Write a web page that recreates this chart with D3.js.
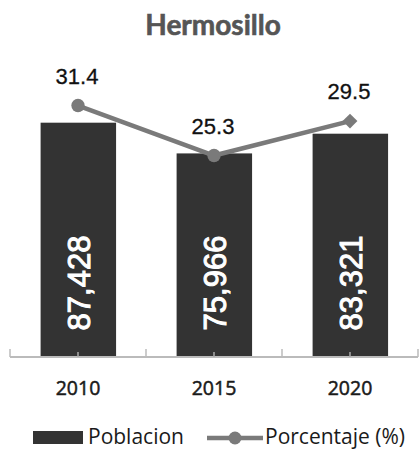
<!DOCTYPE html>
<html>
<head>
<meta charset="utf-8">
<script src="https://cdn.jsdelivr.net/npm/d3@7"></script>
<style>
  body { margin: 0; background: #fff; }
</style>
</head>
<body>
<svg width="420" height="451"></svg>
<script>
var years = ["2010", "2015", "2020"];
var poblacion = [87428, 75966, 83321];
var porcentaje = [31.4, 25.3, 29.5];
var legendLabels = ["Poblacion", "Porcentaje (%)"];

var svg = d3.select("svg"),
    width = +svg.attr("width"),
    height = +svg.attr("height");

var axisY = 357;

var x = d3.scaleBand().domain(years).range([10, 418]);
var y = d3.scaleLinear().domain([0, 100000]).range([axisY, 89]);
var y2 = d3.scaleLinear().domain([0, 35]).range([363, 76]);

var fmt = d3.format(",");

// titulo
svg.append("text")
  .attr("x", 213).attr("y", 35)
  .attr("text-anchor", "middle")
  .style("font-family", "Lato, sans-serif")
  .style("font-weight", "bold")
  .style("font-size", "28px")
  .style("fill", "#555")
  .style("stroke", "#555")
  .style("stroke-width", "0.6px")
  .text("Hermosillo");

// barras
var bw = x.bandwidth();
svg.append("g").selectAll("rect")
  .data(years)
  .enter().append("rect")
  .attr("x", function(d) { return x(d) + bw * 0.225; })
  .attr("width", bw * 0.555)
  .attr("y", function(d, i) { return y(poblacion[i]); })
  .attr("height", function(d, i) { return axisY - y(poblacion[i]); })
  .attr("fill", "#333");

// eje
var axis = svg.append("g");
axis.append("line")
  .attr("x1", 10).attr("x2", 418)
  .attr("y1", axisY).attr("y2", axisY)
  .attr("stroke", "#bbb").attr("stroke-width", 2);
axis.selectAll(".tick")
  .data(years.map(function(d) { return x(d); }).concat([418]))
  .enter().append("line")
  .attr("x1", function(d) { return d; }).attr("x2", function(d) { return d; })
  .attr("y1", axisY).attr("y2", axisY - 8)
  .attr("stroke", "#bbb").attr("stroke-width", 1.5);
axis.selectAll(".ctick")
  .data(years)
  .enter().append("line")
  .attr("x1", function(d) { return x(d) + bw / 2; }).attr("x2", function(d) { return x(d) + bw / 2; })
  .attr("y1", axisY).attr("y2", axisY - 5)
  .attr("stroke", "#aaa").attr("stroke-width", 1.5);

axis.selectAll(".yr")
  .data(years)
  .enter().append("text")
  .attr("x", function(d) { return x(d) + bw / 2; })
  .attr("y", 395)
  .attr("text-anchor", "middle")
  .style("font-family", "Open Sans")
  .style("font-size", "19.5px")
  .style("fill", "#1a1a1a")
  .style("stroke", "#1a1a1a")
  .style("stroke-width", "0.5px")
  .text(function(d) { return d; });

// etiquetas de las barras
svg.append("g").selectAll("text")
  .data(years)
  .enter().append("text")
  .attr("transform", function(d) { return "translate(" + (x(d) + bw / 2 + 1) + ",283) rotate(-90)"; })
  .attr("text-anchor", "middle")
  .attr("dy", "0.36em")
  .style("font-family", "Liberation Sans")
  .style("font-size", "31px")
  .style("fill", "#fff")
  .style("stroke", "#fff")
  .style("stroke-width", "1px")
  .text(function(d, i) { return fmt(poblacion[i]); });

// linea de porcentaje
var line = d3.line()
  .x(function(d, i) { return x(years[i]) + bw / 2; })
  .y(function(d) { return y2(d); });

svg.append("path")
  .datum(porcentaje)
  .attr("d", line)
  .attr("fill", "none")
  .attr("stroke", "#7a7a7a")
  .attr("stroke-width", 4.5);

svg.append("g").selectAll("path")
  .data(porcentaje)
  .enter().append("path")
  .attr("transform", function(d, i) { return "translate(" + (x(years[i]) + bw / 2) + "," + y2(d) + ")" + (i == 2 ? " rotate(45)" : ""); })
  .attr("d", function(d, i) {
    return i == 2 ? d3.symbol().type(d3.symbolSquare).size(110)() : d3.symbol().type(d3.symbolCircle).size(140)();
  })
  .attr("fill", "#7a7a7a");

svg.append("g").selectAll("text")
  .data(porcentaje)
  .enter().append("text")
  .attr("x", function(d, i) { return x(years[i]) + bw / 2 - 1; })
  .attr("y", function(d) { return y2(d) - 22; })
  .attr("text-anchor", "middle")
  .style("font-family", "Liberation Sans")
  .style("font-size", "22px")
  .style("fill", "#111")
  .style("stroke", "#111")
  .style("stroke-width", "0.3px")
  .text(function(d) { return d.toFixed(1); });

// leyenda
var leg = svg.append("g");
leg.append("rect")
  .attr("x", 33).attr("y", 431).attr("width", 50).attr("height", 13)
  .attr("fill", "#333");
leg.append("text")
  .attr("x", 88).attr("y", 444)
  .style("font-family", "Open Sans")
  .style("font-size", "21px")
  .style("fill", "#1a1a1a")
  .text(legendLabels[0]);
leg.append("line")
  .attr("x1", 207).attr("x2", 263).attr("y1", 438).attr("y2", 438)
  .attr("stroke", "#7a7a7a").attr("stroke-width", 4.5);
leg.append("circle")
  .attr("cx", 235).attr("cy", 438).attr("r", 6.5)
  .attr("fill", "#7a7a7a");
leg.append("text")
  .attr("x", 265).attr("y", 444)
  .style("font-family", "Open Sans")
  .style("font-size", "21px")
  .style("fill", "#1a1a1a")
  .text(legendLabels[1]);
</script>
</body>
</html>
